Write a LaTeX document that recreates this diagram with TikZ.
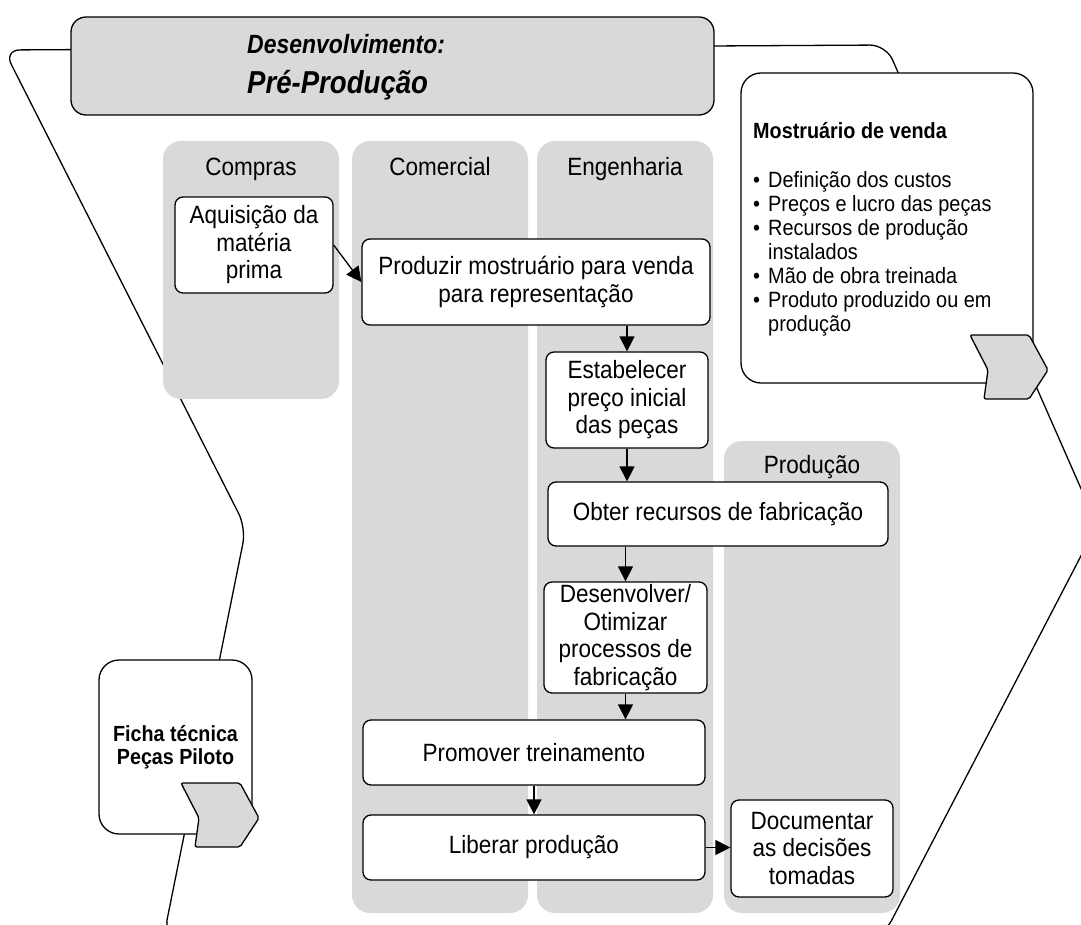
\documentclass[tikz,border=0pt]{standalone}
\usepackage{fontspec}
% slightly narrowed faces: glyphs keep the Arial widths but stand a little taller
\setmainfont[FakeStretch=0.9]{Liberation Sans}
\newfontfamily\hdrfont[FakeStretch=0.87]{Liberation Sans}
\usetikzlibrary{arrows.meta}
\definecolor{lanegray}{HTML}{D9D9D9}
\tikzset{
  lane/.style={fill=lanegray, rounded corners=18pt},
  lanelabel/.style={font=\fontsize{25}{28}\selectfont, inner sep=0pt, anchor=base},
  stepbox/.style={draw, fill=white, line width=1.3pt, rounded corners=8pt, align=center,
    inner sep=0pt, font=\fontsize{25}{27.5}\selectfont},
  flow/.style={-{Triangle[length=15pt,width=15pt]}, line width=1.3pt},
  outline/.style={line width=1.3pt, rounded corners=16pt},
  tab/.style={draw, line width=1.3pt, fill=lanegray, rounded corners=2pt, line join=round},
  panel/.style={draw, fill=white, line width=1.3pt, rounded corners=20pt},
}
\begin{document}
\begin{tikzpicture}[x=1pt,y=-1pt]
\useasboundingbox (0,0) rectangle (1081,925);
\clip (0,0) rectangle (1081,925);

% large surrounding frame
\draw[outline] (4,50) -- (246,528) -- (164,935) -- (884,935) -- (1097,525) -- (886,45) -- cycle;

% swimlanes
\fill[lane] (163,141) rectangle (339,399);
\fill[lane] (352,141) rectangle (528,913);
\fill[lane] (537,141) rectangle (713,913);
\fill[lane] (724,441) rectangle (900,913);
\node[lanelabel] (lcompras) at (251,175.5) {Compras};
\node[lanelabel] (lcomercial) at (440,175.5) {Comercial};
\node[lanelabel] (lengenharia) at (625,175.5) {Engenharia};
\node[lanelabel] (lproducao) at (812,473.5) {Produção};

% phase header
\draw[fill=lanegray, line width=1.3pt, rounded corners=15pt] (71,17) rectangle (714,115);
\node[anchor=base west, inner sep=0pt, font=\hdrfont\bfseries\itshape\fontsize{26.4}{29}\selectfont] (hdr1) at (247,53.5) {Desenvolvimento:};
\node[anchor=base west, inner sep=0pt, font=\hdrfont\bfseries\itshape\fontsize{31.7}{35}\selectfont] (hdr2) at (247,93.5) {Pré-Produção};

% output panel: sales sample
\draw[panel] (741,73) rectangle (1033,383);
\draw[tab] (970,335) -- (1029,335) -- (1048,370) -- (1029,399) -- (984,399) -- (988,370) -- cycle;
\node[anchor=base west, inner sep=0pt, font=\bfseries\fontsize{22}{25}\selectfont] (mtitle) at (753,139) {Mostruário de venda};
\node[anchor=west, inner sep=0pt, font=\fontsize{22.1}{24}\selectfont] (mlist) at (753,255)
  {\begin{tabular}{@{}l@{}l@{}}
   \makebox[15pt][l]{\textbullet} & Definição dos custos\\
   \makebox[15pt][l]{\textbullet} & Preços e lucro das peças\\
   \makebox[15pt][l]{\textbullet} & Recursos de produção\\
   & instalados\\
   \makebox[15pt][l]{\textbullet} & Mão de obra treinada\\
   \makebox[15pt][l]{\textbullet} & Produto produzido ou em\\
   & produção
  \end{tabular}};

% input panel: technical sheet
\node[panel, minimum width=153pt, minimum height=174pt, align=center, inner sep=0pt,
  font=\bfseries\fontsize{21.9}{23.5}\selectfont] (ficha) at (175.5,747) {Ficha técnica\\Peças Piloto};
\draw[tab] (181,783) -- (240,783) -- (259,818) -- (240,847) -- (195,847) -- (199,818) -- cycle;

% process steps
\node[stepbox, minimum width=158pt, minimum height=96pt] (aq) at (254,245) {Aquisição da\\matéria\\prima};
\node[stepbox, minimum width=348pt, minimum height=86pt] (prod) at (536,282) {Produzir mostruário para venda\\para representação};
\node[stepbox, minimum width=162pt, minimum height=96pt] (estab) at (627,400) {Estabelecer\\preço inicial\\das peças};
\node[stepbox, minimum width=340pt, minimum height=64pt] (obter) at (718,514) {Obter recursos de fabricação};
\node[stepbox, minimum width=163pt, minimum height=111pt] (desenv) at (625.5,637.5) {Desenvolver/\\Otimizar\\processos de\\fabricação};
\node[stepbox, minimum width=342pt, minimum height=65pt] (promo) at (534,752.5) {Promover treinamento};
\node[stepbox, minimum width=342pt, minimum height=65pt] (liber) at (534,847.5) {Liberar produção};
\node[stepbox, minimum width=162pt, minimum height=97pt] (doc) at (812,848.5) {Documentar\\as decisões\\tomadas};

% flow
\draw[flow] (aq.east) -- (prod.west);
\draw[flow] (prod.south -| estab.north) -- (estab.north);
\draw[flow] (estab.south) -- (estab.south |- obter.north);
\draw[flow] (desenv.north |- obter.south) -- (desenv.north);
\draw[flow] (desenv.south) -- (desenv.south |- promo.north);
\draw[flow] (promo.south) -- (liber.north);
\draw[flow] (liber.east) -- (liber.east -| doc.west);
\end{tikzpicture}
\end{document}
